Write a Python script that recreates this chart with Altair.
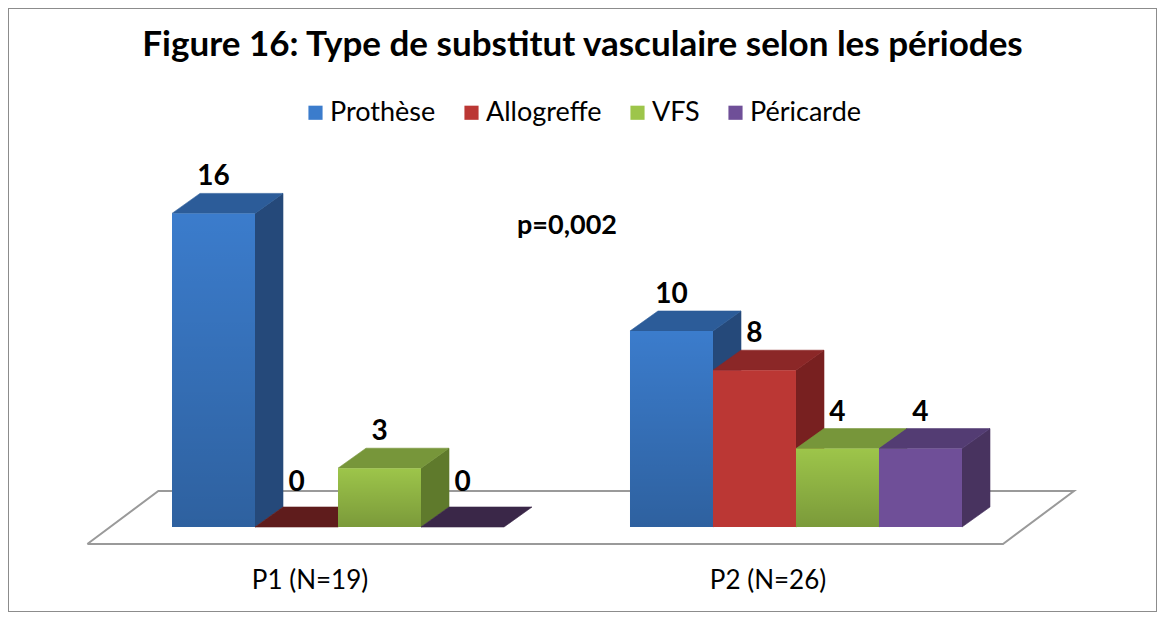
import altair as alt
import pandas as pd

# ---------------- data ----------------
title_text = "Figure 16: Type de substitut vasculaire selon les périodes"
periods = ["P1 (N=19)", "P2 (N=26)"]
series = ["Prothèse", "Allogreffe", "VFS", "Péricarde"]
values_p1 = [16, 0, 3, 0]
values_p2 = [10, 8, 4, 4]
p_label = "p=0,002"

# ---------------- styles ----------------
front_colors = ["#3b7ccc", "#bb3734", "#9dc54a", "#6f4f98"]
top_colors = ["#2c5c99", "#8b2727", "#77963a", "#533c73"]
side_colors = ["#25497a", "#782020", "#5f7a2c", "#48335f"]
zero_colors = ["#1f3e66", "#5f1c1c", "#4e6624", "#3a2748"]

FONT = "Lato"
W, H = 1149, 604
PX_X = 83.0      # px per bar width
PX_Y = 19.6      # px per unit
X0_PX = 164.0    # px position of first bar's left edge
BASE_PX = 519.0  # px position of the baseline
GAP = 1.518      # gap between groups (in bar widths)
DX = 28 / PX_X   # depth offset (x)
DY = 20 / PX_Y   # depth offset (y)
ZERO_LIFT = 8 / PX_Y

x_scale = alt.Scale(domain=[-X0_PX / PX_X, (W - X0_PX) / PX_X], nice=False, zero=False)
y_scale = alt.Scale(domain=[-(H - BASE_PX) / PX_Y, BASE_PX / PX_Y], nice=False, zero=False)

all_values = [values_p1, values_p2]
stride = len(series) + GAP

bars, tops, sides = [], [], []
for gi, per in enumerate(periods):
    for si, s in enumerate(series):
        v = all_values[gi][si]
        x0 = gi * stride + si
        x1 = x0 + 1
        bid = f"{gi}-{si}"
        bars.append(dict(id=bid, period=per, series=s, x0=x0, x1=x1, xc=x0 + 0.5,
                         y0=0, v=v, vt=v + DY + (ZERO_LIFT if v == 0 else 0), label=str(v)))
        tc = top_colors[si] if v > 0 else zero_colors[si]
        for (xx, lo, hi) in [(x0, v, v), (x0 + DX, v, v + DY), (x1, v, v + DY), (x1 + DX, v + DY, v + DY)]:
            tops.append(dict(id=bid, x=xx, lo=lo, hi=hi, c=tc))
        if v > 0:
            for (xx, lo, hi) in [(x1, 0, v), (x1 + DX, DY, v + DY)]:
                sides.append(dict(id=bid, x=xx, lo=lo, hi=hi, c=side_colors[si]))

bars_df = pd.DataFrame(bars)
tops_df = pd.DataFrame(tops)
sides_df = pd.DataFrame(sides)

# floor parallelogram derived from bar layout
last_right = (len(periods) - 1) * stride + len(series)
fl = -1.02
fr = last_right + 0.494
fy0 = -17 / PX_Y
fdx = 71 / PX_X
fdy = 53 / PX_Y
floor_df = pd.DataFrame([
    dict(o=0, x=fl, y=fy0), dict(o=1, x=fr, y=fy0), dict(o=2, x=fr + fdx, y=fy0 + fdy),
    dict(o=3, x=fl + fdx, y=fy0 + fdy), dict(o=4, x=fl, y=fy0),
])

cat_df = pd.DataFrame([dict(period=p, x=gi * stride + len(series) / 2 - DX, y=-54 / PX_Y)
                       for gi, p in enumerate(periods)])
p_df = pd.DataFrame([dict(t=p_label, x=len(series) + GAP / 2, y=301 / PX_Y)])


def X(f):
    return alt.X(f, type="quantitative", scale=x_scale, axis=None)


def Y(f):
    return alt.Y(f, type="quantitative", scale=y_scale, axis=None)


floor = alt.Chart(floor_df).mark_line(color="#9a9a9a", strokeWidth=2).encode(
    x=X("x"), y=Y("y"), order="o:Q")

side_layer = alt.Chart(sides_df).mark_area(interpolate="linear", strokeWidth=0.6).encode(
    x=X("x"), y=Y("lo"), y2="hi", detail="id:N",
    fill=alt.Fill("c:N", scale=None), stroke=alt.Stroke("c:N", scale=None))

top_layer = alt.Chart(tops_df).mark_area(interpolate="linear", strokeWidth=0.6).encode(
    x=X("x"), y=Y("lo"), y2="hi", detail="id:N",
    fill=alt.Fill("c:N", scale=None), stroke=alt.Stroke("c:N", scale=None))

front = alt.Chart(bars_df).mark_rect(opacity=1).encode(
    x=X("x0"), x2="x1", y=Y("y0"), y2="v",
    color=alt.Color("series:N", scale=alt.Scale(domain=series, range=front_colors),
                    legend=alt.Legend(title=None, orient="none", legendX=294, legendY=91,
                                      direction="horizontal", symbolType="square",
                                      symbolSize=200, symbolStrokeWidth=0,
                                      labelFont=FONT, labelFontSize=27, labelColor="black",
                                      labelOffset=1, columnPadding=22, labelLimit=300)))

shade = alt.Chart(bars_df).transform_filter(
    alt.FieldOneOfPredicate(field="series", oneOf=[series[0], series[2]])
).mark_rect(color=alt.LinearGradient(
    gradient="linear", x1=0, x2=0, y1=0, y2=1,
    stops=[alt.GradientStop(offset=0, color="rgba(0,0,0,0)"),
           alt.GradientStop(offset=1, color="rgba(0,0,0,0.22)")])).encode(
    x=X("x0"), x2="x1", y=Y("y0"), y2="v")

vlabels = alt.Chart(bars_df).mark_text(font=FONT, fontSize=28, fontWeight="bold", color="black",
                                       baseline="alphabetic", dy=-8).encode(
    x=X("xc"), y=Y("vt"), text="label:N")

cats = alt.Chart(cat_df).mark_text(font=FONT, fontSize=26, color="black", baseline="middle").encode(
    x=X("x"), y=Y("y"), text="period:N")

ptext = alt.Chart(p_df).mark_text(font=FONT, fontSize=27, fontWeight="bold", color="black",
                                  baseline="middle").encode(
    x=X("x"), y=Y("y"), text="t:N")

chart = alt.layer(floor, side_layer, top_layer, front, shade, vlabels, cats, ptext).properties(
    width=W, height=H,
    title=alt.Title(title_text, font=FONT, fontSize=35, fontWeight="bold", color="black",
                    anchor="middle", baseline="middle", offset=0, dy=72),
    autosize=alt.AutoSizeParams(type="none"),
    padding=0,
).configure_view(stroke="#8c8c8c", strokeWidth=2)

chart.save("out.html", embed_options={"renderer": "svg", "actions": False})
